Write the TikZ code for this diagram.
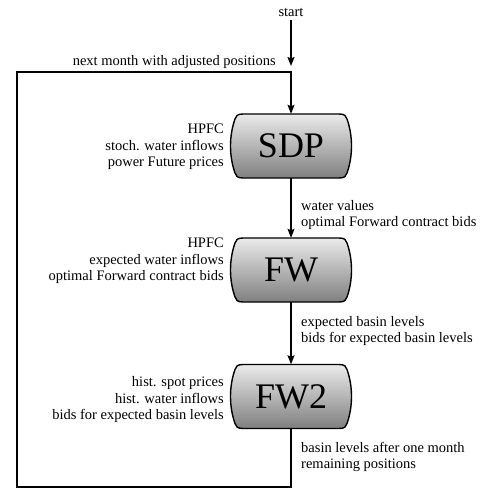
\documentclass[tikz,border=0pt]{standalone}
\usepackage{fontspec}
\setmainfont{Liberation Serif}
\usetikzlibrary{arrows.meta}

\tikzset{
  flow/.style={line width=1.4pt, -{Stealth[length=9pt,width=7pt,inset=1.5pt]}},
  info/.style={font=\fontsize{14.5}{16.5}\selectfont, inner sep=0pt},
  stage/.style={minimum width=122pt, minimum height=64pt, inner sep=0pt,
    font=\fontsize{36}{40}\selectfont},
  drum/.pic={
    \draw[line width=1.4pt, top color=black!8, bottom color=black!50]
      (-48,-32) -- (48,-32) .. controls (54,-32) and (55,-30) .. (56,-27)
      .. controls (62,-10) and (62,10) .. (56,27)
      .. controls (55,30) and (54,32) .. (48,32) -- (-48,32)
      .. controls (-54,32) and (-55,30) .. (-56,27)
      .. controls (-62,10) and (-62,-10) .. (-56,-27)
      .. controls (-55,-30) and (-54,-32) .. (-48,-32) -- cycle;
  }
}

\begin{document}
\begin{tikzpicture}[x=1pt, y=-1pt]
  \useasboundingbox (0,0) rectangle (481,489);

  % Stages
  \pic at (291,146) {drum};
  \node[stage] (sdp) at (291,146) {SDP};
  \pic at (291,270) {drum};
  \node[stage] (fw) at (291,270) {FW};
  \pic at (291,396.5) {drum};
  \node[stage] (fwtwo) at (291,396.5) {FW2};

  % Start
  \node[info] (start) at (291,12) {start};
  \coordinate (entry) at (291,66);
  \draw[flow, shorten <=4pt] (start.south) -- (entry);

  % Main flow
  \draw[flow] (sdp.south) -- (fw.north);
  \draw[flow] (fw.south) -- (fwtwo.north);

  % Loop back to next month
  \coordinate (loopbl) at (17,487);
  \coordinate (looptl) at (17,72);
  \draw[flow] (fwtwo.south) |- (loopbl) -- (looptl) -| (sdp.north);
  \node[info, anchor=base east] (nextlbl) at (276,66) {next month with adjusted positions};

  % Inputs
  \node[info, anchor=east, align=right] (sdpin) at (224,147)
    {HPFC\\stoch. water inflows\\power Future prices};
  \node[info, anchor=east, align=right] (fwin) at (224,261)
    {HPFC\\expected water inflows\\optimal Forward contract bids};
  \node[info, anchor=east, align=right] (fwtwoin) at (224,400)
    {hist. spot prices\\hist. water inflows\\bids for expected basin levels};

  % Outputs
  \node[info, anchor=west, align=left] (sdpout) at (301,215)
    {water values\\optimal Forward contract bids};
  \node[info, anchor=west, align=left] (fwout) at (301,331)
    {expected basin levels\\bids for expected basin levels};
  \node[info, anchor=west, align=left] (fwtwoout) at (301,457)
    {basin levels after one month\\remaining positions};
\end{tikzpicture}
\end{document}
